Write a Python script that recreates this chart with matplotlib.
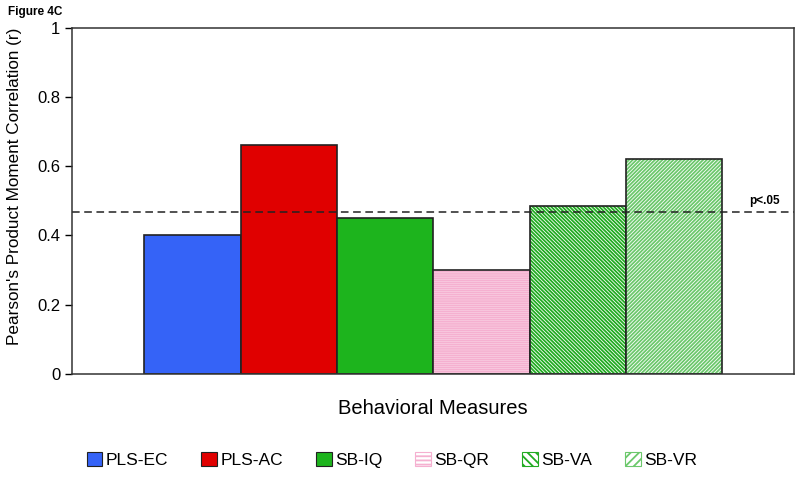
import matplotlib
matplotlib.use("Agg")
import matplotlib.pyplot as plt
from matplotlib.patches import Patch

plt.rcParams["font.family"] = ["Liberation Sans", "DejaVu Sans"]
plt.rcParams["hatch.linewidth"] = 1.3

labels = ["PLS-EC", "PLS-AC", "SB-IQ", "SB-QR", "SB-VA", "SB-VR"]
values = [0.402, 0.662, 0.451, 0.299, 0.484, 0.621]
threshold = 0.468

# fill colour, hatch colour, hatch pattern for each bar
faces = ["#3563f7", "#e00000", "#1db41d", "white", "white", "white"]
hatch_cols = [None, None, None, "#f5b0d0", "#22ab22", "#6cc86c"]
hatches = [None, None, None, "-" * 8, "\\" * 9, "/" * 9]

fig = plt.figure(figsize=(8, 4.97), dpi=100)
ax = fig.add_axes([0.09, 0.248, 0.903, 0.696])

x = list(range(len(labels)))
for i in x:
    if hatches[i]:
        ax.bar(i, values[i], width=1.0, color=faces[i], edgecolor=hatch_cols[i],
               hatch=hatches[i], linewidth=0)
        ax.bar(i, values[i], width=1.0, fill=False, edgecolor="#222222", linewidth=1.2)
    else:
        ax.bar(i, values[i], width=1.0, color=faces[i], edgecolor="#222222", linewidth=1.2)

ax.axhline(threshold, color="#222222", linestyle=(0, (5, 3)), linewidth=1.1)
ax.text(6.1, threshold + 0.015, "p<.05", ha="right", va="bottom",
        fontsize=8.5, fontweight="bold")

ax.set_xlim(-1.25, 6.25)
ax.set_ylim(0, 1)
ax.set_xticks([])
ax.set_yticks([0, 0.2, 0.4, 0.6, 0.8, 1.0])
ax.set_yticklabels(["0", "0.2", "0.4", "0.6", "0.8", "1"], fontsize=12)
ax.tick_params(axis="y", direction="out", length=5, width=1)
for s in ax.spines.values():
    s.set_linewidth(1.1)
    s.set_color("#333333")

ax.set_ylabel("Pearson's Product Moment Correlation (r)", fontsize=12.3)
ax.yaxis.set_label_coords(-0.069, 0.543)
ax.set_xlabel("Behavioral Measures", fontsize=14.5, labelpad=18)

fig.text(0.01, 0.975, "Figure 4C", fontsize=8.5, fontweight="bold", va="center")

handles = []
for i in x:
    if hatches[i]:
        handles.append(Patch(facecolor=faces[i], edgecolor=hatch_cols[i],
                             hatch=hatches[i][:4], linewidth=0.8))
    else:
        handles.append(Patch(facecolor=faces[i], edgecolor="#222222", linewidth=0.8))
fig.legend(handles, labels, loc="center", bbox_to_anchor=(0.49, 0.075), ncol=6,
           frameon=False, fontsize=12.5, handlelength=0.9, handleheight=0.9,
           handletextpad=0.2, columnspacing=1.9)

fig.savefig("out.png", dpi=100)
